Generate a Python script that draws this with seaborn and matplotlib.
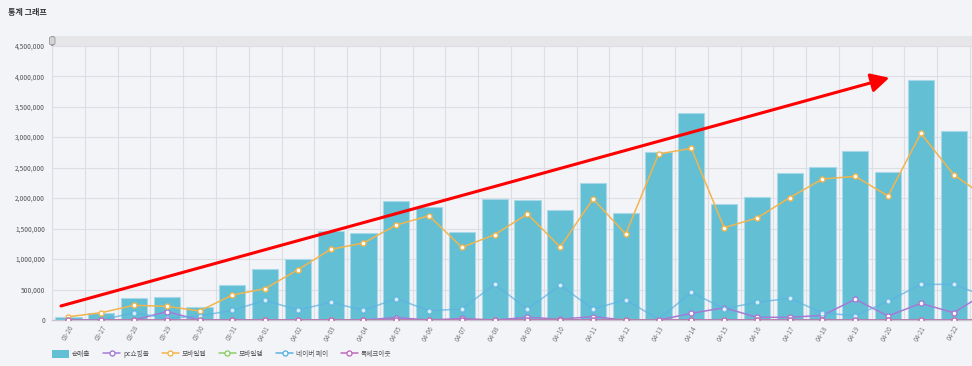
import numpy as np
import pandas as pd
import matplotlib
matplotlib.use("Agg")
import matplotlib.pyplot as plt
import seaborn as sns
from matplotlib.patches import Patch, FancyArrowPatch, Rectangle, FancyBboxPatch
from matplotlib.lines import Line2D
from matplotlib.ticker import FuncFormatter

# ---------------- data ----------------
dates = ["03-26", "03-27", "03-28", "03-29", "03-30", "03-31", "04-01", "04-02",
         "04-03", "04-04", "04-05", "04-06", "04-07", "04-08", "04-09", "04-10",
         "04-11", "04-12", "04-13", "04-14", "04-15", "04-16", "04-17", "04-18",
         "04-19", "04-20", "04-21", "04-22"]
line_dates = dates + ["04-23"]  # last point lies past the visible right edge

net_sales = [55000, 120000, 361000, 372000, 218000, 569000, 836000, 1000000,
             1460000, 1422000, 1947000, 1859000, 1438000, 1990000, 1963000, 1804000,
             2253000, 1750000, 2751000, 3396000, 1903000, 2013000, 2406000, 2516000,
             2767000, 2423000, 3937000, 3106000]

pc_mall = [0, 0, 0, 137000, 0, 0, 0, 0,
           0, 0, 40000, 0, 25000, 0, 44000, 15000,
           54000, 0, 0, 109000, 202000, 44000, 44000, 77000,
           339000, 66000, 273000, 120000, 450000]

mobile_web = [54000, 120000, 241000, 224000, 148000, 410000, 514000, 825000,
              1159000, 1263000, 1558000, 1711000, 1192000, 1400000, 1739000, 1197000,
              1985000, 1411000, 2723000, 2816000, 1514000, 1673000, 2007000, 2313000,
              2357000, 2034000, 3062000, 2384000, 2008000]

mobile_app = [0, 0, 0, 0, 0, 0, 0, 0,
              0, 0, 0, 0, 0, 0, 0, 8000,
              0, 8000, 0, 0, 0, 0, 0, 0,
              0, 0, 0, 0, 0]

naver_pay = [0, 0, 120000, 30000, 66000, 159000, 323000, 164000,
             290000, 159000, 350000, 153000, 180000, 585000, 180000, 569000,
             180000, 333000, 10000, 454000, 186000, 290000, 356000, 115000,
             71000, 307000, 585000, 585000, 380000]

talk_checkout = [0] * 29

legend_labels = ["순매출", "pc쇼핑몰", "모바일웹", "모바일앱", "네이버 페이", "톡체크아웃"]
y_ticks = [0, 500000, 1000000, 1500000, 2000000, 2500000, 3000000, 3500000, 4000000, 4500000]

# ---------------- style ----------------
sns.set_theme(style="white")
plt.rcParams["font.family"] = ["Noto Sans CJK KR", "DejaVu Sans"]

BG = "#f3f4f8"
GRID = "#dcdee4"
BAR = "#63bfd4"
C_PC = "#a57ad6"
C_MW = "#f2b54e"
C_MA = "#8ccd6a"
C_NP = "#5db3e2"
C_TK = "#c06cbc"

W, H = 972, 366
fig = plt.figure(figsize=(W / 100, H / 100), dpi=100, facecolor=BG)
ax = fig.add_axes([52 / W, 1 - 320 / H, 1 - 52 / W, (320 - 45.7) / H])
ax.set_facecolor(BG)

bars_df = pd.DataFrame({"date": dates, "value": net_sales})
sns.barplot(data=bars_df, x="date", y="value", color=BAR, saturation=1, width=0.8,
            edgecolor="#a9d8e8", linewidth=0.8, ax=ax, zorder=2)

xs = np.arange(len(line_dates))
series = [(pc_mall, C_PC, 1.0), (mobile_web, C_MW, 1.0), (mobile_app, C_MA, 1.0),
          (naver_pay, C_NP, 0.75), (talk_checkout, C_TK, 1.0)]
for vals, col, a in series:
    ldf = pd.DataFrame({"x": xs, "y": vals})
    sns.lineplot(data=ldf, x="x", y="y", ax=ax, color=col, linewidth=1.1, alpha=a,
                 marker="o", markersize=3.6, markerfacecolor="white",
                 markeredgecolor=col, markeredgewidth=1.0, zorder=3, clip_on=True)

ax.set_xlim(-0.5, 27.56)
ax.set_ylim(0, 4500000)
ax.set_xlabel("")
ax.set_ylabel("")

ax.set_yticks(y_ticks)
ax.yaxis.set_major_formatter(FuncFormatter(lambda v, p: f"{int(v):,}"))
ax.tick_params(axis="y", labelsize=4.8, colors="#555555", length=0, pad=5)

ax.set_xticks(np.arange(len(dates)))
ax.set_xticklabels(dates, rotation=60, ha="right", rotation_mode="anchor")
ax.tick_params(axis="x", labelsize=4.6, colors="#777777", length=0, pad=3)

ax.set_xticks(np.arange(len(dates) + 1) - 0.5, minor=True)
ax.tick_params(axis="x", which="minor", length=0)
ax.grid(True, axis="y", which="major", color=GRID, linewidth=0.8, zorder=0)
ax.grid(True, axis="x", which="minor", color=GRID, linewidth=0.8, zorder=0)
ax.grid(False, axis="x", which="major")
ax.set_axisbelow(True)

for s in ["top", "right"]:
    ax.spines[s].set_visible(False)
ax.spines["left"].set_color(GRID)
ax.spines["left"].set_linewidth(0.8)
ax.spines["bottom"].set_color("#c9c3cf")
ax.spines["bottom"].set_linewidth(1.0)

# data-zoom slider strip above the plot
fig.add_artist(Rectangle((52 / W, 1 - 45.5 / H), 1 - 52 / W, 9 / H,
                         transform=fig.transFigure, facecolor="#e6e6e8",
                         edgecolor="none", zorder=1))
fig.add_artist(FancyBboxPatch((49.5 / W, 1 - 45 / H), 5.5 / W, 8.5 / H,
                              boxstyle="round,pad=0,rounding_size=0.004",
                              transform=fig.transFigure, facecolor="#d5d5d8",
                              edgecolor="#9a9a9a", linewidth=0.6, zorder=2))

# title
fig.text(8 / W, 1 - 12 / H, "통계 그래프", fontsize=5.8, fontweight="bold",
         color="#333333", va="center", ha="left")

# red trend arrow overlay
arrow = FancyArrowPatch((58.3 / W, 1 - 306.7 / H), (892 / W, 1 - 77 / H),
                        transform=fig.transFigure, arrowstyle="-|>,head_length=5,head_width=2.6",
                        mutation_scale=2.2, color="#ff0000", linewidth=2.2, zorder=10)
fig.add_artist(arrow)

# legend
handles = [Patch(facecolor=BAR, edgecolor="none")]
for col in [C_PC, C_MW, C_MA, C_NP, C_TK]:
    handles.append(Line2D([], [], color=col, linewidth=1.1, marker="o", markersize=3.6,
                          markerfacecolor="white", markeredgecolor=col,
                          markeredgewidth=1.0))
leg = fig.legend(handles, legend_labels, loc="center left",
                 bbox_to_anchor=(46 / W, 1 - 354 / H), ncol=6, frameon=False,
                 fontsize=4.8, handlelength=2.6, handleheight=1.4, columnspacing=1.9,
                 handletextpad=0.4, labelcolor="#555555")

fig.savefig("out.png", dpi=100, facecolor=BG)
